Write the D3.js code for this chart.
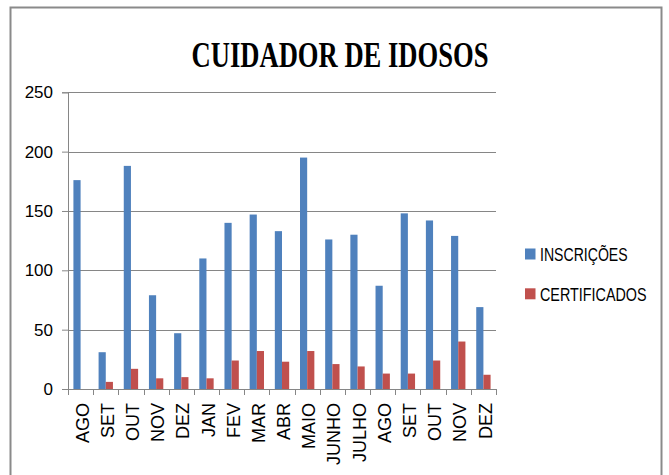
<!DOCTYPE html>
<html>
<head>
<meta charset="utf-8">
<script src="https://cdn.jsdelivr.net/npm/d3@7"></script>
<style>
  html, body { margin: 0; padding: 0; background: #fff; }
  svg { display: block; }
</style>
</head>
<body>
<svg id="chart" width="669" height="475"></svg>
<script>
const title = "CUIDADOR DE IDOSOS";
const months = ["AGO","SET","OUT","NOV","DEZ","JAN","FEV","MAR","ABR","MAIO","JUNHO","JULHO","AGO","SET","OUT","NOV","DEZ"];
const inscricoes = [176,31,188,79,47,110,140,147,133,195,126,130,87,148,142,129,69];
const certificados = [0,6,17,9,10,9,24,32,23,32,21,19,13,13,24,40,12];
const seriesNames = ["INSCRIÇÕES","CERTIFICADOS"];
const seriesColors = ["#4F81BD","#C0504D"];
const yTicks = [0,50,100,150,200,250];

const svg = d3.select("#chart");
const plot = {left: 68, right: 496, top: 92.3, bottom: 389};

// outer frame
svg.append("rect")
  .attr("x", 10.5).attr("y", 7.5)
  .attr("width", 651).attr("height", 490)
  .attr("fill", "#fff").attr("stroke", "#8a8a8a").attr("stroke-width", 2);

// title
svg.append("text")
  .attr("x", 191.5).attr("y", 66.5)
  .attr("font-family", "'Liberation Serif', 'DejaVu Serif', serif")
  .attr("font-weight", "bold")
  .attr("font-size", 35)
  .attr("textLength", 297)
  .attr("lengthAdjust", "spacingAndGlyphs")
  .attr("fill", "#000")
  .text(title);

const idx = months.map((m, i) => i);
const x0 = d3.scaleBand().domain(idx).range([plot.left, plot.right])
  .paddingInner(0.43).paddingOuter(0.215);
const x1 = d3.scaleBand().domain([0, 1]).range([0, x0.bandwidth()]);
const y = d3.scaleLinear().domain([0, 250]).range([plot.bottom, plot.top]);

// y axis + ticks
const yAxis = d3.axisLeft(y).tickValues(yTicks).tickSize(6).tickFormat(d3.format("d"));
const yG = svg.append("g").attr("transform", `translate(${plot.left},0)`).call(yAxis);
yG.select(".domain").attr("stroke", "#868686");
yG.selectAll(".tick line").attr("stroke", "#868686");
yG.selectAll(".tick text")
  .attr("x", -15)
  .attr("font-family", "'Liberation Sans', Arial, sans-serif")
  .attr("font-size", 17)
  .attr("fill", "#000");

// gridlines
svg.append("g").selectAll("line").data(yTicks.filter(d => d > 0)).join("line")
  .attr("x1", plot.left).attr("x2", plot.right)
  .attr("y1", d => Math.round(y(d)) + 0.5).attr("y2", d => Math.round(y(d)) + 0.5)
  .attr("stroke", "#868686").attr("stroke-width", 1);

// bars
const seriesData = [inscricoes, certificados];
const groups = svg.append("g").selectAll("g").data(idx).join("g")
  .attr("transform", i => `translate(${x0(i)},0)`);
groups.selectAll("rect").data(i => seriesData.map((s, k) => ({k, v: s[i]}))).join("rect")
  .attr("x", d => x1(d.k))
  .attr("width", x1.bandwidth())
  .attr("y", d => y(d.v))
  .attr("height", d => y(0) - y(d.v))
  .attr("fill", d => seriesColors[d.k]);

// x axis line
const step = x0.step();
svg.append("line")
  .attr("x1", plot.left).attr("x2", plot.right)
  .attr("y1", plot.bottom + 0.5).attr("y2", plot.bottom + 0.5)
  .attr("stroke", "#868686");
// category boundary ticks
const bounds = idx.map(i => x0(i) - step * x0.paddingInner() / 2).concat([plot.right]);
svg.append("g").selectAll("line").data(bounds).join("line")
  .attr("x1", d => Math.round(d) + 0.5).attr("x2", d => Math.round(d) + 0.5)
  .attr("y1", plot.bottom).attr("y2", plot.bottom + 6)
  .attr("stroke", "#868686");

// x labels (rotated)
svg.append("g").selectAll("text").data(idx).join("text")
  .attr("transform", i => `translate(${x0(i) + x0.bandwidth() / 2},403) rotate(-90)`)
  .attr("text-anchor", "end")
  .attr("dy", "0.45em")
  .attr("font-family", "'Liberation Sans', Arial, sans-serif")
  .attr("font-size", 18)
  .attr("fill", "#000")
  .text(i => months[i]);

// legend
const legendY = [248.5, 288.3];
const legendW = [87.7, 106.7];
const lg = svg.append("g").selectAll("g").data(seriesNames).join("g");
lg.append("rect")
  .attr("x", 525).attr("y", (d, k) => legendY[k])
  .attr("width", 10.5).attr("height", 11)
  .attr("fill", (d, k) => seriesColors[k]);
lg.append("text")
  .attr("font-family", "'Liberation Sans', Arial, sans-serif")
  .attr("font-size", 18)
  .attr("fill", "#000")
  .text(d => d)
  .each(function(d, k) {
    const w = this.getComputedTextLength();
    const sx = legendW[k] / w;
    d3.select(this).attr("transform", `translate(540,${legendY[k] + 12.5}) scale(${sx},1)`);
  });
</script>
</body>
</html>
